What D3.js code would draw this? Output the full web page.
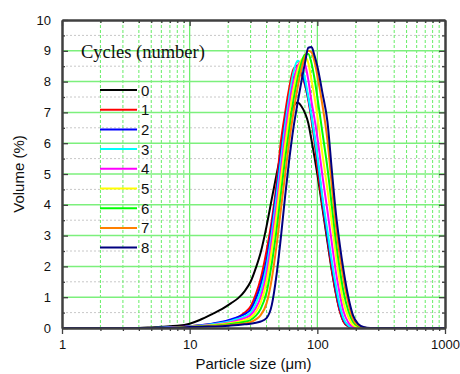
<!DOCTYPE html>
<html lang="en">
  <head>
    <meta charset="utf-8" />
    <title>Particle size distribution</title>
    <script src="https://cdnjs.cloudflare.com/ajax/libs/d3/7.8.5/d3.min.js"></script>
    <style type="text/css">
      body { margin: 0; background: #fff; }
      text { font-family: "Liberation Sans", Arial, sans-serif; }
    </style>
  </head>

  <body>
    <div id="chart"></div>
    <script>
      // particle size (um), shared by all series
      const sizes = [1, 2, 4, 5, 6, 8, 10, 12, 15, 18, 21, 24, 27, 30, 33, 36, 40, 44, 48, 52, 56, 60, 65, 70, 75, 80, 85, 90, 95, 100, 110, 120, 130, 140, 150, 160, 175, 190, 210, 230, 260, 300, 500, 1000];

      // volume (%) per cycle count
      const cycle0 = [0, 0, 0, 0.02, 0.04, 0.07, 0.14, 0.26, 0.45, 0.62, 0.8, 0.97, 1.2, 1.5, 1.95, 2.45, 3.3, 4.2, 5.0, 5.7, 6.3, 6.85, 7.2, 7.32, 7.2, 6.98, 6.65, 6.1, 5.55, 5.0, 3.85, 2.8, 1.85, 1.1, 0.55, 0.22, 0.05, 0.01, 0, 0, 0, 0, 0, 0];
      const cycle1 = [0, 0, 0, 0, 0.01, 0.03, 0.06, 0.09, 0.13, 0.18, 0.25, 0.35, 0.5, 0.7, 1.1, 1.6, 2.5, 3.5, 4.7, 6.1, 7.0, 7.75, 8.4, 8.52, 8.25, 7.9, 7.4, 6.75, 6.05, 5.25, 3.95, 2.9, 1.9, 1.12, 0.55, 0.22, 0.05, 0.01, 0, 0, 0, 0, 0, 0];
      const cycle2 = [0, 0, 0, 0, 0.01, 0.03, 0.06, 0.09, 0.14, 0.2, 0.28, 0.36, 0.45, 0.6, 0.95, 1.4, 2.2, 3.3, 4.5, 5.7, 6.7, 7.45, 8.1, 8.3, 8.28, 7.95, 7.45, 6.85, 6.2, 5.5, 4.1, 3.0, 2.05, 1.25, 0.65, 0.28, 0.07, 0.01, 0, 0, 0, 0, 0, 0];
      const cycle3 = [0, 0, 0, 0, 0.01, 0.02, 0.05, 0.08, 0.12, 0.17, 0.23, 0.3, 0.38, 0.5, 0.8, 1.2, 2.0, 3.1, 4.3, 5.5, 6.6, 7.45, 8.3, 8.68, 8.55, 8.1, 7.5, 6.9, 6.25, 5.6, 4.2, 3.15, 2.15, 1.35, 0.72, 0.32, 0.08, 0.02, 0, 0, 0, 0, 0, 0];
      const cycle4 = [0, 0, 0, 0, 0, 0.02, 0.04, 0.07, 0.1, 0.14, 0.19, 0.25, 0.32, 0.42, 0.65, 1.0, 1.75, 2.85, 4.0, 5.2, 6.3, 7.2, 8.0, 8.5, 8.65, 8.55, 8.05, 7.35, 6.8, 6.2, 4.9, 3.8, 2.75, 1.8, 1.1, 0.55, 0.18, 0.04, 0, 0, 0, 0, 0, 0];
      const cycle5 = [0, 0, 0, 0, 0, 0.01, 0.04, 0.06, 0.09, 0.12, 0.16, 0.2, 0.26, 0.34, 0.52, 0.82, 1.5, 2.55, 3.7, 4.9, 5.95, 6.85, 7.75, 8.35, 8.7, 8.8, 8.6, 8.05, 7.5, 6.9, 5.6, 4.5, 3.4, 2.35, 1.5, 0.85, 0.35, 0.1, 0.02, 0, 0, 0, 0, 0];
      const cycle6 = [0, 0, 0, 0, 0, 0.01, 0.03, 0.05, 0.07, 0.1, 0.13, 0.16, 0.2, 0.26, 0.4, 0.62, 1.15, 2.1, 3.2, 4.4, 5.5, 6.4, 7.4, 8.1, 8.6, 8.88, 8.9, 8.6, 8.1, 7.5, 6.3, 5.2, 3.95, 2.8, 1.9, 1.2, 0.55, 0.2, 0.05, 0.01, 0, 0, 0, 0];
      const cycle7 = [0, 0, 0, 0, 0, 0.01, 0.03, 0.04, 0.06, 0.08, 0.1, 0.12, 0.15, 0.19, 0.28, 0.42, 0.8, 1.6, 2.7, 3.9, 5.0, 6.0, 7.0, 7.8, 8.4, 8.8, 9.0, 8.95, 8.65, 8.2, 7.2, 6.1, 4.6, 3.3, 2.35, 1.6, 0.8, 0.3, 0.08, 0.02, 0, 0, 0, 0];
      const cycle8 = [0, 0, 0, 0, 0, 0.01, 0.03, 0.04, 0.05, 0.06, 0.08, 0.1, 0.12, 0.14, 0.17, 0.21, 0.32, 0.75, 1.75, 3.0, 4.3, 5.4, 6.5, 7.3, 8.0, 8.6, 9.1, 9.12, 8.85, 8.5, 7.6, 6.7, 5.1, 3.7, 2.7, 1.9, 1.0, 0.42, 0.12, 0.03, 0, 0, 0, 0];

      const seriesNames = ['0', '1', '2', '3', '4', '5', '6', '7', '8'];
      const seriesValues = [cycle0, cycle1, cycle2, cycle3, cycle4, cycle5, cycle6, cycle7, cycle8];
      const seriesColors = ['#000000', '#ff0000', '#0000ff', '#00ffff', '#ff00ff', '#ffff00', '#00ff00', '#ff8000', '#000080'];

      const yTicks = [0, 1, 2, 3, 4, 5, 6, 7, 8, 9, 10];
      const xMajor = [1, 10, 100, 1000];

      const width = 460, height = 374;
      const margin = { top: 20, right: 15, bottom: 46, left: 62 };

      const svg = d3.select('#chart')
        .append('svg')
        .attr('width', width)
        .attr('height', height);

      const x = d3.scaleLog()
        .domain([1, 1000])
        .range([margin.left, width - margin.right]);
      const y = d3.scaleLinear()
        .domain([0, 10])
        .range([height - margin.bottom, margin.top]);

      const x0 = x.range()[0], x1 = x.range()[1];
      const yTop = y.range()[1], yBot = y.range()[0];

      const xMinor = [];
      xMajor.slice(0, -1).forEach(d => {
        for (let k = 2; k <= 9; k++) xMinor.push(d * k);
      });
      const yMinor = yTicks.slice(0, -1).map(d => d + 0.5);

      // grid
      const grid = svg.append('g');
      grid.selectAll('.ymin')
        .data(yMinor)
        .join('line')
        .attr('x1', x0).attr('x2', x1)
        .attr('y1', d => y(d)).attr('y2', d => y(d))
        .attr('stroke', '#c8c8c8')
        .attr('stroke-width', 1)
        .attr('stroke-dasharray', '2,2');
      grid.selectAll('.xmin')
        .data(xMinor)
        .join('line')
        .attr('x1', d => x(d)).attr('x2', d => x(d))
        .attr('y1', yTop).attr('y2', yBot)
        .attr('stroke', '#66ee66')
        .attr('stroke-width', 1)
        .attr('stroke-dasharray', '3,2');
      grid.selectAll('.xmaj')
        .data([10, 100])
        .join('line')
        .attr('x1', d => x(d)).attr('x2', d => x(d))
        .attr('y1', yTop).attr('y2', yBot)
        .attr('stroke', '#66ee66')
        .attr('stroke-width', 1.2);
      grid.selectAll('.ymaj')
        .data(yTicks.slice(1, -1))
        .join('line')
        .attr('x1', x0).attr('x2', x1)
        .attr('y1', d => y(d)).attr('y2', d => y(d))
        .attr('stroke', '#7cf07c')
        .attr('stroke-width', 1.5);

      // curves
      const line = d3.line()
        .x((d, i) => x(sizes[i]))
        .y(d => y(d))
        .curve(d3.curveMonotoneX);

      svg.append('g')
        .selectAll('path')
        .data(seriesValues)
        .join('path')
        .attr('d', d => line(d))
        .attr('fill', 'none')
        .attr('stroke', (d, i) => seriesColors[i])
        .attr('stroke-width', 2)
        .attr('stroke-linejoin', 'round');

      // axes
      const axisColor = '#404040';
      const styleAxis = g => {
        g.select('.domain').attr('stroke', axisColor).attr('stroke-width', 2);
        g.selectAll('.tick line').attr('stroke', axisColor).attr('stroke-width', 1.3);
        g.selectAll('.tick text').attr('fill', '#111').style('font-size', '13px');
      };

      svg.append('g')
        .attr('transform', `translate(0,${yBot})`)
        .call(d3.axisBottom(x).tickValues(xMajor).tickFormat(d3.format('d')).tickSizeInner(6).tickSizeOuter(0).tickPadding(6))
        .call(styleAxis);
      svg.append('g')
        .attr('transform', `translate(0,${yBot})`)
        .call(d3.axisBottom(x).tickValues(xMinor).tickFormat('').tickSizeInner(3).tickSizeOuter(0))
        .call(styleAxis);

      svg.append('g')
        .attr('transform', `translate(0,${yTop})`)
        .call(d3.axisTop(x).tickValues(xMajor).tickFormat('').tickSizeInner(-6).tickSizeOuter(0))
        .call(styleAxis);
      svg.append('g')
        .attr('transform', `translate(0,${yTop})`)
        .call(d3.axisTop(x).tickValues(xMinor).tickFormat('').tickSizeInner(-3).tickSizeOuter(0))
        .call(styleAxis);

      svg.append('g')
        .attr('transform', `translate(${x0},0)`)
        .call(d3.axisLeft(y).tickValues(yTicks).tickFormat(d3.format('d')).tickSizeInner(-6).tickSizeOuter(0).tickPadding(11))
        .call(styleAxis);
      svg.append('g')
        .attr('transform', `translate(${x0},0)`)
        .call(d3.axisLeft(y).tickValues(yMinor).tickFormat('').tickSizeInner(-3).tickSizeOuter(0))
        .call(styleAxis);

      svg.append('g')
        .attr('transform', `translate(${x1},0)`)
        .call(d3.axisRight(y).tickValues(yTicks).tickFormat('').tickSizeInner(-6).tickSizeOuter(0))
        .call(styleAxis);
      svg.append('g')
        .attr('transform', `translate(${x1},0)`)
        .call(d3.axisRight(y).tickValues(yMinor).tickFormat('').tickSizeInner(-3).tickSizeOuter(0))
        .call(styleAxis);

      // axis titles
      svg.append('text')
        .attr('x', (x0 + x1) / 2)
        .attr('y', 369)
        .attr('text-anchor', 'middle')
        .style('font-size', '15px')
        .attr('fill', '#111')
        .text('Particle size (μm)');
      svg.append('text')
        .attr('transform', `translate(24,${(yTop + yBot) / 2}) rotate(-90)`)
        .attr('text-anchor', 'middle')
        .style('font-size', '15px')
        .attr('fill', '#111')
        .text('Volume (%)');

      // legend
      const legend = svg.append('g');
      legend.append('text')
        .attr('x', 81)
        .attr('y', 58)
        .style('font-family', '"Liberation Serif", "Times New Roman", serif')
        .style('font-size', '18.5px')
        .attr('fill', '#111')
        .text('Cycles (number)');

      const rows = legend.selectAll('.row')
        .data(seriesNames)
        .join('g')
        .attr('transform', (d, i) => `translate(0,${90 + i * 19.7})`);
      rows.append('line')
        .attr('x1', 100).attr('x2', 137)
        .attr('stroke', (d, i) => seriesColors[i])
        .attr('stroke-width', 2);
      rows.append('text')
        .attr('x', 141)
        .attr('y', 5.5)
        .style('font-size', '15px')
        .attr('fill', '#111')
        .text(d => d);
    </script>
  </body>
</html>
